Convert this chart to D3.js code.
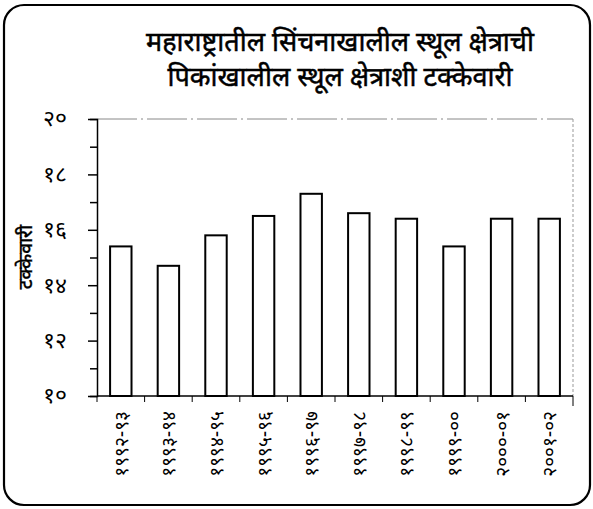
<!DOCTYPE html>
<html>
<head>
<meta charset="utf-8">
<script src="https://cdn.jsdelivr.net/npm/d3@7/dist/d3.min.js"></script>
<style>
  html, body { margin: 0; padding: 0; background: #fff; }
  svg { display: block; }
  text { font-family: "Noto Sans Devanagari", "Lohit Devanagari", "Noto Sans", "Mangal", sans-serif; fill: #000; }
</style>
</head>
<body>
<svg id="chart" width="593" height="509"></svg>
<script>
const categories = ["१९९२-९३", "१९९३-९४", "१९९४-९५", "१९९५-९६", "१९९६-९७", "१९९७-९८", "१९९८-९९", "१९९९-००", "२०००-०१", "२००१-०२"];
const values = [15.4, 14.7, 15.8, 16.5, 17.3, 16.6, 16.4, 15.4, 16.4, 16.4];
const yTickValues = [10, 12, 14, 16, 18, 20];
const yTickLabels = ["१०", "१२", "१४", "१६", "१८", "२०"];
const titleLines = ["महाराष्ट्रातील सिंचनाखालील स्थूल क्षेत्राची", "पिकांखालील स्थूल क्षेत्राशी टक्केवारी"];
const yAxisTitle = "टक्केवारी";

const svg = d3.select("#chart");

// frame
svg.append("rect")
  .attr("x", 4).attr("y", 5).attr("width", 586).attr("height", 500)
  .attr("rx", 20).attr("ry", 20)
  .attr("fill", "none").attr("stroke", "#000").attr("stroke-width", 2.2);

// title
svg.selectAll("text.title").data(titleLines).join("text")
  .attr("class", "title")
  .attr("x", 340)
  .attr("y", (d, i) => 51 + i * 35)
  .attr("text-anchor", "middle")
  .attr("font-size", 27)
  .attr("font-weight", 400)
  .attr("stroke", "#000").attr("stroke-width", 0.5)
  .text(d => d);

const x = d3.scaleBand().domain(categories).range([97, 573]).paddingInner(0.55).paddingOuter(0.275);
const y = d3.scaleLinear().domain([10, 20]).range([396, 119]);

// faint top and right borders of plot area
svg.append("line")
  .attr("x1", 97).attr("x2", 573).attr("y1", y(20)).attr("y2", y(20))
  .attr("stroke", "#888").attr("stroke-width", 1).attr("stroke-dasharray", "40 4 2 4");
svg.append("line")
  .attr("x1", 573).attr("x2", 573).attr("y1", y(20)).attr("y2", y(10))
  .attr("stroke", "#999").attr("stroke-width", 1).attr("stroke-dasharray", "3 2");

// bars
svg.selectAll("rect.bar").data(values).join("rect")
  .attr("class", "bar")
  .attr("x", (d, i) => x(categories[i]))
  .attr("y", d => y(d))
  .attr("width", x.bandwidth())
  .attr("height", d => y(10) - y(d))
  .attr("fill", "#fff").attr("stroke", "#000").attr("stroke-width", 2);

// y axis with major + minor ticks
const yAxisG = svg.append("g").attr("transform", "translate(97,0)");
yAxisG.call(d3.axisLeft(y).tickValues(d3.range(10, 21, 1)).tickSize(7).tickFormat(""));
yAxisG.selectAll(".tick line").attr("stroke-width", 1.5)
  .attr("x2", d => (d % 2 === 0 ? -9 : -7));
yAxisG.select(".domain").attr("stroke-width", 1.5);
yAxisG.selectAll(".tick").filter(d => d % 2 === 0).append("text")
  .attr("x", -30).attr("dy", "0.3em")
  .attr("text-anchor", "end")
  .attr("font-size", 23)
  .text(d => yTickLabels[yTickValues.indexOf(d)]);

// x axis
const xAxisG = svg.append("g").attr("transform", `translate(0,${y(10)})`);
xAxisG.append("line").attr("x1", 97).attr("x2", 573).attr("stroke", "#000").attr("stroke-width", 1.5);
const bounds = categories.map(c => x(c) - x.step() * x.paddingInner() / 2).concat([573]);
xAxisG.selectAll("line.xt").data(bounds).join("line")
  .attr("class", "xt")
  .attr("x1", d => d).attr("x2", d => d)
  .attr("y1", 0).attr("y2", (d, i) => (i === bounds.length - 1 ? 10 : 6))
  .attr("stroke", "#000").attr("stroke-width", 1);
xAxisG.selectAll("text.xl").data(categories).join("text")
  .attr("class", "xl")
  .attr("transform", d => `translate(${x(d) + x.bandwidth() / 2 + 7},15) rotate(-90)`)
  .attr("text-anchor", "end")
  .attr("font-size", 19)
  .text(d => d);

// y axis title
svg.append("text")
  .attr("transform", "translate(32,257) rotate(-90)")
  .attr("text-anchor", "middle")
  .attr("font-size", 19)
  .attr("font-weight", 500)
  .attr("stroke", "#000").attr("stroke-width", 0.3)
  .text(yAxisTitle);
</script>
</body>
</html>
